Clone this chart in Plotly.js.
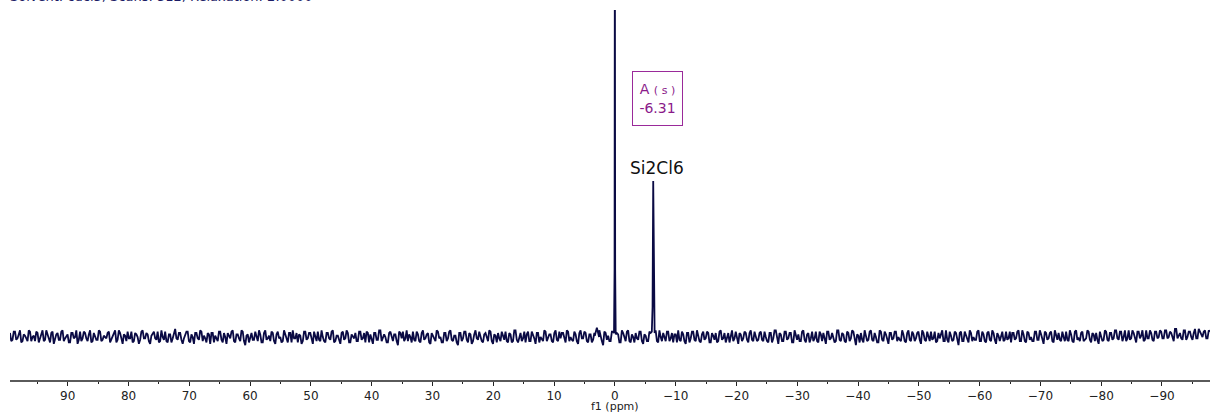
<!DOCTYPE html>
<html>
<head>
<meta charset="utf-8">
<script src="https://cdn.plot.ly/plotly-3.0.1.min.js"></script>
<style>html,body{margin:0;padding:0;background:#fff;}#chart{width:1211px;height:414px;}</style>
</head>
<body>
<div id="chart"></div>
<script>
// Spectrum sampling (ppm, left to right)
const ppmStart = 99.5;
const ppmEnd = -97.9;

// Baseline noise (arbitrary intensity units), left to right, even samples
const noiseA = [
  3,-2,4,-1,5,-3,1,-3,4,0,-3,3,-1,5,-2,2,-4,4,-1,3,
  -2,5,-1,2,-4,3,0,-5,4,-1,3,-3,5,-3,1,-2,4,-2,0,3,
  -4,1,5,-2,3,-5,1,4,-1,-4,3,0,-2,5,-1,2,-5,3,-1,4,
  -3,0,4,-4,2,-1,6,-2,3,-5,1,4,-4,0,3,-1,5,-3,-1,3,
  -5,3,1,-3,4,-4,0,3,-1,5,-4,2,-3,4,-6,2,0,-2,4,-3,
  2,-4,5,-1,-3,3,-5,4,0,-3,2,-4,3,5,-1,-4,1,-3,4,-1,
  3,-5,1,4,-3,0,-4,3,-2,5,-3,1,-5,4,-1,3,-4,0,3,-3,
  4,-1,-4,3,2,-5,3,-2,5,-1,0,-4,4,-3,2,-6,3,4,-1,-3,
  0,4,-3,2,-4,5,-1,3,-5,1,-3,4,0,-4,3,-1,5,-3,1,-6,
  3,-1,4,-4,2,-3,5,-2,0,-4,3,-3,4,-5,1,3,-3,0,4,-4,
  2,-3,5,-4,3,-1,-4,4,-3,2,-5,3,0,-3,4,-1,2,-4,5,-3,
  -1,3,-4,4,0,-3,2,-5,5,-1,3,-4,2,-2,4,-3,0,-6,3,1,
  -3,4,-1,2,-4,3,-3,5,-4,0,3,-2,4,-5,1,-3,3,-1,5,-4,
  0,3,-3,4,-1,-4,2,5,-3,2,-5,3,-1,4,-3,0,-4,4,-1,3,
  -4,1,3,-3,5,-1,-4,3,0,-3,4,-5,2,-1,3,-4,5,-3,1,-2,
  4,-3,0,-4,3,-1,5,-5,2,-3,4,-1,3,-4,0,2,-3,5,-4,3,
  -1,-3,4,-4,2,3,-5,4,-1,0,-3,5,-3,2,-4,3,-1,4,-6,1,
  3,-4,1,-2,5,-3,0,-4,4,-3,2,-5,3,-1,4,0,-3,2,-4,5,
  -3,2,-1,4,-5,3,-3,0,4,-1,-4,3,2,-3,5,-4,1,-2,3,-6,
  4,-3,1,-4,3,0,-2,5,-3,2,-4,4,-3,3,-5,1,0,-3,4,-1,
  -4,3,-1,5,-3,2,-4,3,0,-3,4,-2,2,-5,3,-1,4,-4,1,3,
  -3,0,4,-3,2,-4,5,-1,3,-3,-1,4,-4,2,3,-5,1,-2,4,-3,
  3,-1,5,-2,4,0,-3,5,-1,3,-4,4,1,-3,5,-1,3,-3,4,0,
  4,-1,5,0,3,-3,6,1,-1,5,-2,4,0,3,-1,6,1,4,-1,5
];
// Odd samples, between the even ones
const noiseB = [
  -3,4,-2,3,-4,2,-1,5,-3,1,4,-4,2,-3,5,-1,3,-5,2,-2,
  4,-3,1,-4,3,-1,5,-2,-3,4,-1,2,-4,3,-2,5,-3,1,-1,4,
  -2,3,-4,5,-1,2,-3,-1,4,-3,2,-5,4,-1,3,-3,1,4,-2,-4,
  5,-2,-3,2,-4,4,-1,3,-2,-1,4,-3,2,-5,3,-2,4,1,-4,2,
  3,-4,-1,4,-2,3,-5,1,4,-3,2,-1,5,-3,1,-4,3,-2,-1,5,
  -4,3,-2,1,4,-3,2,-1,-4,5,-2,3,-4,-1,3,2,-5,4,-2,3,
  -1,4,-3,-2,5,-3,3,-1,4,-4,1,-3,3,-2,5,-4,2,-1,-3,4,
  -2,3,4,-4,-1,3,-2,5,-3,2,-4,3,-1,2,-3,4,-1,-3,5,2,
  -4,-2,4,-3,3,-2,2,-4,3,-2,5,-1,-4,3,-3,4,-2,1,-4,3,
  -3,4,-2,3,-5,2,-1,4,-3,2,-1,5,-3,2,-4,-1,4,-2,-3,3,
  -4,5,-2,1,-3,4,2,-3,4,-1,3,-4,-2,5,-3,2,-3,3,-2,4,
  3,-2,5,-3,-2,4,-3,3,-1,4,-3,2,-4,3,-1,5,-3,4,-2,-3,
  4,-2,3,-4,5,-1,4,-3,2,-4,-1,4,-3,2,-3,4,-2,3,-3,5,
  -3,-1,4,-3,3,2,-4,-2,4,-3,3,-4,4,-2,5,-3,2,-2,4,-4,
  3,-2,-4,4,-2,3,-1,-4,5,-1,-2,3,-3,4,-2,3,-2,4,-3,3,
  -2,4,-3,3,-4,5,-2,3,-3,4,-2,3,-4,5,-2,-3,4,-2,2,-4,
  4,-1,-3,4,-3,-2,4,-2,3,-4,5,-2,3,-3,4,-3,5,-2,2,-4,
  -2,5,-3,4,-2,3,-4,5,-2,4,-3,3,-2,4,-3,-2,5,-3,3,-2,
  4,-3,3,-2,5,-2,4,-3,-2,4,-3,-1,5,-3,-2,4,-3,4,-2,3,
  -3,4,-2,5,-3,-2,4,-3,4,-3,3,-2,5,-2,3,-3,4,-2,-2,4,
  3,-2,4,-3,5,-3,4,-2,-3,4,-2,5,-3,4,-2,3,-3,5,-2,-2,
  4,-3,-2,5,-3,4,-2,-3,4,-2,5,-2,3,-3,-2,4,-3,5,-2,3,
  -2,5,-1,4,-3,5,-1,-2,5,-2,4,-1,5,-2,-1,5,-2,4,-1,5,
  -1,5,-1,4,0,6,-1,3,-2,5,0,4,-2,6,-1,4,0,5,-1,4
];

// Peak shapes (ppm, intensity)
const peakPpm = [3.3, 2.96, 2.6,
                 0.14, 0.05, 0.0, -0.05, -0.14,
                 -6.08, -6.2, -6.31, -6.42, -6.54];
const peakInt = [1, 7, 0,
                 3, 50, 320, 50, 2,
                 4, 22, 115.5, 22, 3];
// Ranges (ppm) covered by the peak shapes above
const peakWinHi = [3.3, 0.14, -6.08];
const peakWinLo = [2.6, -0.14, -6.54];

// Annotation texts
const solventText = "Solvent: cdcl3, Scans: 512, Relaxation: 2.0000";
const compoundLabel = "Si2Cl6";
const multipletLabel = "A <span style='font-size:11px'>( s )</span><br>-6.31";
const multipletPpm = -7.05;
const axisTitle = "f1 (ppm)";
const tickVals = [90, 80, 70, 60, 50, 40, 30, 20, 10, 0, -10, -20, -30, -40, -50, -60, -70, -80, -90];
const tickText = ["90","80","70","60","50","40","30","20","10","0","\u221210","\u221220","\u221230","\u221240","\u221250","\u221260","\u221270","\u221280","\u221290"];

// Merge grid noise and peaks into one trace
const pts = [];
const n = noiseA.length + noiseB.length;
for (let i = 0; i < n; i++) {
  const v = (i % 2 === 0) ? noiseA[i >> 1] : noiseB[i >> 1];
  const x = ppmStart + i * (ppmEnd - ppmStart) / (n - 1);
  let inPeak = false;
  for (let k = 0; k < peakWinHi.length; k++) {
    if (x <= peakWinHi[k] && x >= peakWinLo[k]) inPeak = true;
  }
  if (!inPeak) pts.push([x, v]);
}
for (let i = 0; i < peakPpm.length; i++) pts.push([peakPpm[i], peakInt[i]]);
pts.sort((a, b) => b[0] - a[0]);
const xs = pts.map(p => p[0]);
const ys = pts.map(p => p[1]);

const trace = {
  x: xs, y: ys, type: 'scatter', mode: 'lines',
  line: {color: '#0a0a44', width: 1.8},
  hoverinfo: 'skip'
};

const layout = {
  width: 1211, height: 414,
  margin: {l: 10, r: 1, t: 10, b: 34},
  paper_bgcolor: '#ffffff', plot_bgcolor: '#ffffff',
  showlegend: false,
  xaxis: {
    range: [ppmStart, ppmEnd],
    showgrid: false, zeroline: false,
    showline: true, linecolor: '#5a5a5a', linewidth: 2,
    ticks: 'outside', ticklen: 4, tickwidth: 1, tickcolor: '#222',
    tickvals: tickVals, ticktext: tickText,
    tickfont: {family: 'DejaVu Sans', size: 12, color: '#222'},
    minor: {dtick: 5, ticks: 'outside', ticklen: 2, tickwidth: 1, tickcolor: '#222', showgrid: false}
  },
  yaxis: {
    range: [-31.8, 242.2], visible: false, showgrid: false, zeroline: false
  },
  annotations: [
    {xref: 'paper', yref: 'paper', x: -2/1200, y: 1 + 13/370, xanchor: 'left', yanchor: 'middle',
     text: solventText, showarrow: false,
     font: {family: 'DejaVu Sans', size: 13, color: '#1c1c66'}},
    {xref: 'x', yref: 'paper', x: -7.0, y: (380 - 168) / 370, xanchor: 'center', yanchor: 'middle',
     text: compoundLabel, showarrow: false,
     font: {family: 'DejaVu Sans', size: 17, color: '#111'}},
    {xref: 'x', yref: 'paper', x: multipletPpm, y: (380 - 98.5) / 370, xanchor: 'center', yanchor: 'middle',
     text: multipletLabel, showarrow: false, width: 49, height: 53, borderpad: 0,
     bordercolor: '#9a2a9a', borderwidth: 1, align: 'center',
     font: {family: 'DejaVu Sans', size: 14, color: '#8a1a8a'}},
    {xref: 'x', yref: 'paper', x: 0, y: -27/370, xanchor: 'center', yanchor: 'middle',
     text: axisTitle, showarrow: false,
     font: {family: 'DejaVu Sans', size: 11, color: '#222'}}
  ]
};

Plotly.newPlot('chart', [trace], layout, {displayModeBar: false, staticPlot: true});
</script>
</body>
</html>
